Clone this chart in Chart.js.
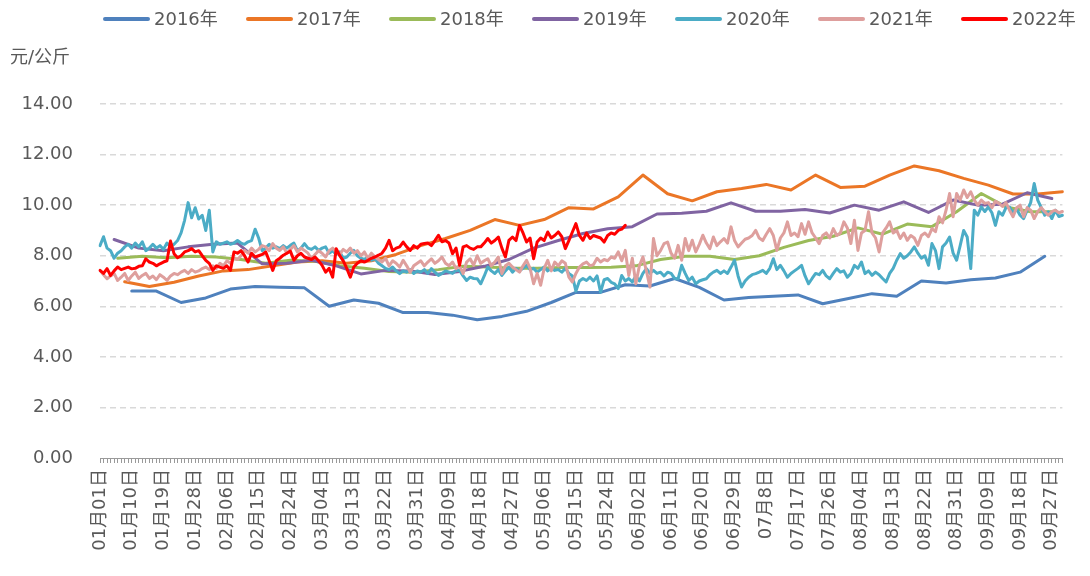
<!DOCTYPE html>
<html>
<head>
<meta charset="utf-8">
<script src="https://cdn.jsdelivr.net/npm/chart.js@4/dist/chart.umd.min.js"></script>
<style>
	html, body { margin: 0; background: #fff; }
	#wrap { width: 1090px; height: 576px; }
</style>
</head>
<body>
<div id="wrap"><canvas id="chart"></canvas></div>
<script>
// days on the axis: 01-01 .. 09-30 (leap year)
const monthDays = [31, 29, 31, 30, 31, 30, 31, 31, 30];
const tickLabels = ['01月01日', '01月10日', '01月19日', '01月28日', '02月06日', '02月15日', '02月24日', '03月04日',
	'03月13日', '03月22日', '03月31日', '04月09日', '04月18日', '04月27日', '05月06日', '05月15日', '05月24日',
	'06月02日', '06月11日', '06月20日', '06月29日', '07月8日', '07月17日', '07月26日', '08月04日', '08月13日',
	'08月22日', '08月31日', '09月09日', '09月18日', '09月27日'];
const yTicks = [0, 2, 4, 6, 8, 10, 12, 14];
const unit = '元/公斤';

const names = ['2016年', '2017年', '2018年', '2019年', '2020年', '2021年', '2022年'];
const colors = ['#4F81BD', '#EB7626', '#9BBB59', '#8064A2', '#4BACC6', '#DE9F9D', '#FF0000'];

// weekly series : first day index, then one price per week
const start2016 = 9;
const y2016 = [6.6, 6.6, 6.15, 6.33, 6.68, 6.78, 6.75, 6.73, 6.0, 6.25, 6.12, 5.75, 5.75, 5.65, 5.47, 5.6, 5.8, 6.15, 6.55,
	6.55, 6.85, 6.8, 7.1, 6.75, 6.25, 6.35, 6.4, 6.45, 6.1, 6.3, 6.5, 6.4, 7.0, 6.92, 7.05, 7.12, 7.35, 7.98];
const start2017 = 7;
const y2017 = [6.97, 6.78, 6.95, 7.2, 7.4, 7.45, 7.6, 7.75, 7.8, 7.7, 7.8, 8.05, 8.4, 8.68, 9.0, 9.43, 9.2, 9.43, 9.9, 9.85,
	10.33, 11.19, 10.45, 10.17, 10.53, 10.66, 10.82, 10.6, 11.19, 10.7, 10.75, 11.19, 11.55, 11.36, 11.06, 10.79, 10.44, 10.44, 10.53];
const start2018 = 5;
const y2018 = [7.9, 7.98, 7.92, 7.98, 7.95, 7.85, 7.7, 7.82, 7.78, 7.6, 7.5, 7.38, 7.35, 7.45, 7.58, 7.55, 7.5, 7.5, 7.53, 7.53,
	7.54, 7.6, 7.85, 7.98, 7.98, 7.85, 8.0, 8.33, 8.6, 8.77, 9.1, 8.85, 9.25, 9.15, 9.74, 10.46, 9.93, 9.74, 9.74];
const start2019 = 4;
const y2019 = [8.64, 8.3, 8.2, 8.35, 8.45, 8.5, 7.68, 7.7, 7.82, 7.6, 7.28, 7.42, 7.4, 7.26, 7.38, 7.58, 7.85, 8.3, 8.6, 8.88,
	9.07, 9.15, 9.65, 9.68, 9.76, 10.09, 9.76, 9.76, 9.83, 9.69, 10.0, 9.8, 10.13, 9.71, 10.2, 10.0, 10.04, 10.49, 10.26];

// daily series, from 01-01
const y2020 = [
	8.4, 8.75, 8.3, 8.2, 7.9, 8.1, 8.2, 8.35, 8.45, 8.3,
	8.5, 8.35, 8.55, 8.2, 8.3, 8.45, 8.3, 8.4, 8.25, 8.5,
	8.35, 8.45, 8.6, 8.9, 9.4, 10.1, 9.5, 9.9, 9.45, 9.6,
	9.0, 9.8, 8.15, 8.55, 8.45, 8.5, 8.55, 8.45, 8.5, 8.6,
	8.5, 8.45, 8.55, 8.6, 9.05, 8.7, 8.2, 8.3, 8.45, 8.3,
	8.35, 8.28, 8.4, 8.3, 8.41, 8.5, 8.2, 8.3, 8.48, 8.3,
	8.25, 8.35, 8.21, 8.3, 8.35, 8.1, 8.2, 8.05, 8.15, 7.9,
	7.95, 8.1, 8.21, 8.0, 7.9, 7.85, 7.95, 7.82, 7.88, 7.7,
	7.6, 7.5, 7.45, 7.55, 7.4, 7.29, 7.4, 7.35, 7.45, 7.3,
	7.4, 7.35, 7.45, 7.3, 7.49, 7.35, 7.22, 7.3, 7.4, 7.35,
	7.3, 7.42, 7.42, 7.2, 7.02, 7.15, 7.1, 7.09, 6.89, 7.2,
	7.55, 7.4, 7.3, 7.45, 7.22, 7.4, 7.55, 7.35, 7.5, 7.4,
	7.5, 7.62, 7.45, 7.5, 7.35, 7.45, 7.55, 7.4, 7.5, 7.42,
	7.45, 7.35, 7.5, 7.3, 7.2, 6.6, 7.0, 7.1, 7.02, 7.15,
	7.0, 7.2, 6.56, 7.05, 7.1, 6.95, 6.89, 6.7, 7.22, 7.0,
	7.1, 6.96, 7.2, 7.0, 7.3, 7.49, 7.3, 7.42, 7.3, 7.35,
	7.2, 7.35, 7.3, 7.1, 7.09, 7.62, 7.3, 7.02, 7.15, 6.89,
	7.0, 7.05, 7.09, 7.25, 7.35, 7.42, 7.3, 7.4, 7.3, 7.55,
	7.82, 7.2, 6.76, 7.0, 7.15, 7.25, 7.29, 7.35, 7.42, 7.3,
	7.5, 7.88, 7.45, 7.62, 7.4, 7.15, 7.3, 7.4, 7.5, 7.62,
	7.2, 6.89, 7.1, 7.3, 7.25, 7.42, 7.2, 7.09, 7.3, 7.49,
	7.35, 7.4, 7.15, 7.3, 7.62, 7.5, 7.75, 7.29, 7.4, 7.22,
	7.35, 7.25, 7.1, 6.96, 7.3, 7.5, 7.82, 8.08, 7.9, 8.0,
	8.15, 8.35, 8.1, 7.9, 8.0, 7.62, 8.48, 8.2, 7.49, 8.35,
	8.5, 8.74, 8.1, 7.82, 8.4, 9.0, 8.74, 7.49, 9.8, 9.6,
	9.93, 9.75, 9.93, 9.7, 9.2, 9.74, 9.6, 9.9, 9.93, 9.7,
	9.85, 9.6, 9.47, 9.8, 10.1, 10.86, 10.2, 9.9, 9.6, 9.74,
	9.47, 9.8, 9.55, 9.6];
const y2021 = [
	7.42, 7.25, 7.09, 7.2, 7.3, 7.02, 7.15, 7.3, 7.02, 7.2,
	7.35, 7.1, 7.22, 7.3, 7.1, 7.2, 7.05, 7.25, 7.15, 7.02,
	7.2, 7.3, 7.25, 7.35, 7.42, 7.3, 7.45, 7.35, 7.4, 7.49,
	7.55, 7.45, 7.6, 7.5, 7.7, 7.6, 7.8, 7.7, 7.9, 7.85,
	8.0, 8.21, 8.1, 8.3, 8.15, 8.25, 8.4, 8.35, 8.2, 8.48,
	8.3, 8.21, 8.35, 8.1, 8.25, 8.4, 8.15, 8.3, 8.21, 8.1,
	7.88, 8.05, 8.2, 8.1, 7.95, 8.2, 8.3, 8.15, 8.05, 8.25,
	8.15, 8.3, 8.1, 8.2, 8.0, 8.15, 7.9, 8.1, 7.95, 7.85,
	7.75, 7.9, 7.6, 7.8, 7.7, 7.55, 7.82, 7.6, 7.35, 7.6,
	7.7, 7.8, 7.6, 7.75, 7.88, 7.7, 7.8, 7.95, 7.7, 7.6,
	7.75, 7.49, 7.6, 7.29, 7.75, 7.88, 7.62, 8.0, 7.7, 7.8,
	7.88, 7.6, 7.75, 7.95, 7.29, 7.6, 7.7, 7.55, 7.45, 7.35,
	7.6, 7.82, 7.5, 6.89, 7.3, 6.83, 7.5, 7.82, 7.4, 7.75,
	7.6, 7.8, 7.7, 7.15, 6.96, 7.3, 7.55, 7.68, 7.75, 7.6,
	7.65, 7.9, 7.75, 7.85, 7.8, 7.95, 7.9, 8.15, 7.8, 8.21,
	7.22, 7.9, 6.89, 7.6, 7.95, 7.4, 6.76, 8.68, 8.0, 8.2,
	8.48, 8.54, 8.1, 7.9, 8.41, 7.82, 8.68, 8.2, 8.61, 8.15,
	8.45, 8.81, 8.5, 8.28, 8.74, 8.4, 8.55, 8.68, 8.5, 9.14,
	8.6, 8.35, 8.5, 8.65, 8.7, 8.8, 9.0, 8.7, 8.6, 8.85,
	9.07, 8.8, 8.21, 8.7, 8.9, 9.34, 8.8, 8.9, 8.75, 9.27,
	8.85, 9.34, 8.9, 8.7, 8.48, 8.8, 8.9, 8.7, 9.07, 8.8,
	8.9, 9.34, 9.1, 8.48, 9.4, 8.21, 8.9, 9.0, 9.74, 8.9,
	8.7, 8.15, 8.9, 9.1, 9.34, 8.9, 9.0, 8.68, 8.9, 8.61,
	8.8, 8.7, 8.41, 8.8, 8.9, 8.75, 9.07, 8.95, 9.54, 9.3,
	9.8, 10.46, 9.54, 10.46, 10.2, 10.6, 10.3, 10.53, 10.2, 10.0,
	10.2, 10.07, 10.1, 9.9, 10.15, 10.07, 9.95, 10.1, 9.8, 9.54,
	9.9, 10.0, 9.54, 9.9, 9.8, 9.47, 9.75, 9.9, 9.74, 9.6,
	9.74, 9.8, 9.7, 9.75];
const y2022 = [
	7.42, 7.3, 7.49, 7.22, 7.4, 7.55, 7.45, 7.5, 7.55, 7.48,
	7.5, 7.58, 7.6, 7.88, 7.75, 7.7, 7.6, 7.68, 7.75, 7.8,
	8.58, 8.08, 7.92, 8.0, 8.15, 8.2, 8.28, 8.15, 8.2, 8.0,
	7.82, 7.7, 7.42, 7.6, 7.55, 7.5, 7.6, 7.42, 8.15, 8.1,
	8.2, 8.0, 7.75, 8.1, 7.95, 8.0, 8.05, 8.15, 7.8, 7.42,
	7.8, 7.9, 8.02, 8.1, 8.18, 7.82, 8.0, 8.1, 7.95, 7.9,
	7.85, 7.95, 7.8, 7.62, 7.35, 7.5, 7.15, 8.28, 8.0, 7.8,
	7.5, 7.15, 7.55, 7.7, 7.8, 7.75, 7.82, 7.9, 7.95, 8.02,
	8.1, 8.3, 8.61, 8.2, 8.3, 8.35, 8.54, 8.35, 8.21, 8.4,
	8.3, 8.45, 8.48, 8.5, 8.4, 8.6, 8.81, 8.55, 8.6, 8.5,
	8.08, 8.3, 7.62, 8.35, 8.4, 8.3, 8.25, 8.35, 8.35, 8.5,
	8.68, 8.5, 8.6, 8.74, 8.3, 7.95, 8.61, 8.74, 8.6, 9.2,
	8.9, 8.54, 8.7, 7.88, 8.54, 8.7, 8.6, 8.94, 8.7, 8.8,
	8.94, 8.75, 8.28, 8.6, 8.94, 9.27, 8.8, 8.61, 8.9, 8.68,
	8.8, 8.75, 8.7, 8.54, 8.8, 8.9, 8.85, 9.0, 9.05, 9.2];

onload = () => {
	const font = '"DejaVu Sans", "Noto Sans CJK SC", sans-serif';
	const textColor = '#595959';

	let days = [];
	monthDays.forEach((n, m) => {
		for(let d = 1; d <= n; d++)
			days.push(`${String(m + 1).padStart(2, '0')}月${String(d).padStart(2, '0')}日`);
	});

	const weekly = (start, vals) => vals.map((v, k) => ({ x: days[start + 7 * k], y: v }));
	const series = [
		weekly(start2016, y2016),
		weekly(start2017, y2017),
		weekly(start2018, y2018),
		weekly(start2019, y2019),
		y2020, y2021, y2022
	];

	// legend row + unit text
	const legendRow = {
		id: 'legendRow',
		afterDraw(chart) {
			const ctx = chart.ctx;
			ctx.save();
			ctx.font = `18px ${font}`;
			ctx.textBaseline = 'middle';
			chart.data.datasets.forEach((ds, i) => {
				const x = 103 + i * 143;
				ctx.strokeStyle = ds.borderColor;
				ctx.lineWidth = 4;
				ctx.lineCap = 'round';
				ctx.beginPath();
				ctx.moveTo(x + 2, 19);
				ctx.lineTo(x + 45, 19);
				ctx.stroke();
				ctx.fillStyle = textColor;
				ctx.fillText(ds.label, x + 51, 20);
			});
			ctx.fillStyle = textColor;
			ctx.fillText(unit, 10, 58);
			ctx.restore();
		}
	};

	new Chart(document.getElementById('chart'), {
		type: 'line',
		data: {
			labels: days,
			datasets: series.map((data, i) => ({
				label: names[i],
				data: data,
				borderColor: colors[i],
				backgroundColor: colors[i],
				order: series.length - 1 - i
			}))
		},
		options: {
			responsive: true,
			maintainAspectRatio: false,
			animation: false,
			layout: { padding: { top: 104, left: 10, right: 18, bottom: 0 } },
			elements: {
				point: { radius: 0 },
				line: { borderWidth: 3, tension: 0, borderJoinStyle: 'round', borderCapStyle: 'round' }
			},
			plugins: {
				legend: { display: false },
				tooltip: { enabled: false }
			},
			scales: {
				x: {
					grid: { drawOnChartArea: false, color: '#9A9A9A', tickLength: 5 },
					border: { color: '#9A9A9A' },
					ticks: {
						autoSkip: false,
						minRotation: 90,
						maxRotation: 90,
						padding: 6,
						color: textColor,
						font: { family: font, size: 18 },
						callback: (v, i) => i % 9 ? '' : tickLabels[i / 9]
					},
					afterFit: s => { s.height = 118; }
				},
				y: {
					min: yTicks[0],
					max: yTicks[yTicks.length - 1],
					border: { display: false, dash: [6, 4] },
					grid: {
						drawTicks: false,
						lineWidth: 1.5,
						color: ctx => ctx.tick.value === 0 ? 'rgba(0,0,0,0)' : '#D9D9D9'
					},
					afterBuildTicks: s => { s.ticks = yTicks.map(v => ({ value: v })); },
					ticks: {
						padding: 27,
						color: textColor,
						font: { family: font, size: 18 },
						callback: v => v.toFixed(2)
					},
					afterFit: s => { s.width = 90; }
				}
			}
		},
		plugins: [legendRow]
	});
};
</script>
</body>
</html>
